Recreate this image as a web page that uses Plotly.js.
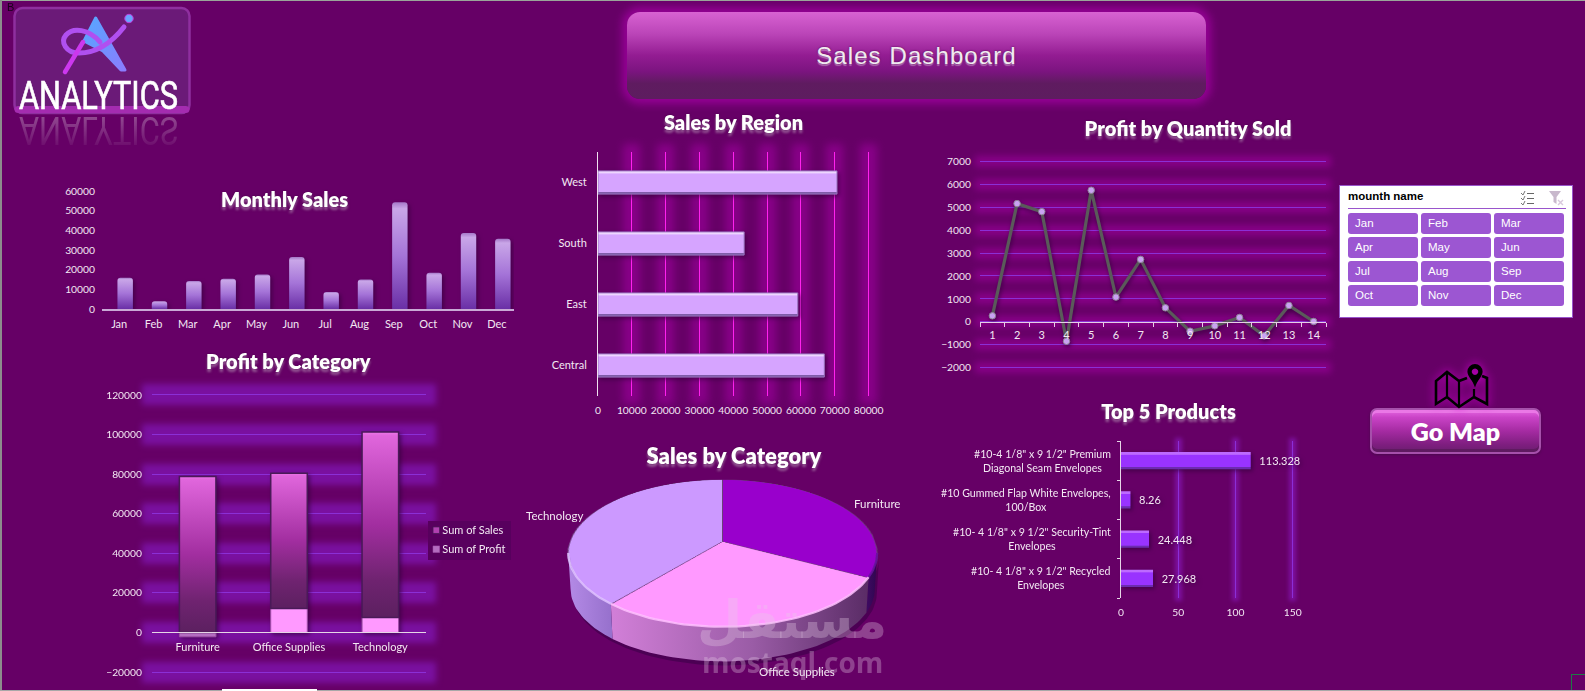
<!DOCTYPE html>
<html>
<head>
<meta charset="utf-8">
<script src="https://cdn.plot.ly/plotly-3.0.1.min.js"></script>
<style>
html,body{margin:0;padding:0;background:#660066;width:1585px;height:691px;overflow:hidden}
.layer{position:absolute;left:0;top:0;width:1585px;height:691px;pointer-events:none}
.abs{position:absolute}
#header{left:627px;top:12px;width:579px;height:87px;border-radius:13px;
 background:linear-gradient(180deg,#d862d2 0%,#bb45b8 25%,#931c92 50%,#7c1480 68%,#5f1b60 82%,#5d1d5f 100%);
 box-shadow:0 0 9px 5px #950095}
#header span{position:absolute;left:0;right:0;top:30px;text-align:center;font:24px "Liberation Sans",sans-serif;letter-spacing:1.1px;color:#f1eaf1;
 text-shadow:0 2px 1px rgba(255,255,255,.35),0 0 2px #4a0a4a}
#slicer{left:1339px;top:185px;width:232px;height:131px;background:#fff;border:1px solid #9955cc;box-sizing:content-box}
#slicer .t{position:absolute;left:8px;top:4px;font:bold 11.5px "Liberation Sans",sans-serif;color:#000}
#slicer .sep{position:absolute;left:8px;width:218px;top:22px;height:1px;background:#9955cc}
.sb{position:absolute;width:70px;height:21px;background:#9c56d2;border-radius:3px;color:#fff;font:11.5px "Liberation Sans",sans-serif;line-height:21px;padding-left:7px;box-sizing:border-box}
#gomap{left:1370px;top:408px;width:171px;height:46px;border-radius:7px;box-sizing:border-box;
 background:linear-gradient(180deg,#e566e2 0%,#c943c6 18%,#a52ba2 50%,#7f1e80 82%,#6a1e6e 100%);
 border:2px solid #a650ab;box-shadow:inset 0 -3px 0 #5f1a60,inset 0 3px 0 #ea78e6,0 1px 3px #4a0a4c;
 color:#fff;text-align:center;font:800 25px Lato,sans-serif;line-height:43px}
#edge-b{left:7px;top:1px;font:11px "Liberation Sans",sans-serif;color:#1a001a}
</style>
</head>
<body>
<svg width="0" height="0" style="position:absolute">
 <defs>
  <filter id="glowRegion" filterUnits="userSpaceOnUse" x="-100" y="-100" width="1800" height="900" color-interpolation-filters="sRGB">
   <feMorphology in="SourceAlpha" operator="dilate" radius="8" result="d"/><feGaussianBlur in="d" stdDeviation="4" result="b"/>
   <feFlood flood-color="#880088"/><feComposite in2="b" operator="in" result="g"/>
   <feMerge><feMergeNode in="g"/><feMergeNode in="SourceGraphic"/></feMerge>
  </filter>
  <filter id="glowQty" filterUnits="userSpaceOnUse" x="-100" y="-100" width="1800" height="900" color-interpolation-filters="sRGB">
   <feMorphology in="SourceAlpha" operator="dilate" radius="5" result="d"/><feGaussianBlur in="d" stdDeviation="3.5" result="b"/>
   <feFlood flood-color="#880088"/><feComposite in2="b" operator="in" result="g"/>
   <feMerge><feMergeNode in="g"/><feMergeNode in="SourceGraphic"/></feMerge>
  </filter>
  <filter id="glowCat" filterUnits="userSpaceOnUse" x="-100" y="-100" width="1800" height="900" color-interpolation-filters="sRGB">
   <feMorphology in="SourceAlpha" operator="dilate" radius="10" result="d"/><feGaussianBlur in="d" stdDeviation="3" result="b"/>
   <feFlood flood-color="#7a10a0"/><feComposite in2="b" operator="in" result="g"/>
   <feMerge><feMergeNode in="g"/><feMergeNode in="SourceGraphic"/></feMerge>
  </filter>
  <filter id="glowTop" filterUnits="userSpaceOnUse" x="-100" y="-100" width="1800" height="900" color-interpolation-filters="sRGB">
   <feMorphology in="SourceAlpha" operator="dilate" radius="3" result="d"/><feGaussianBlur in="d" stdDeviation="2" result="b"/>
   <feFlood flood-color="#7d10a0"/><feComposite in2="b" operator="in" result="g"/>
   <feMerge><feMergeNode in="g"/><feMergeNode in="SourceGraphic"/></feMerge>
  </filter>
  <linearGradient id="gMonthly" x1="0" y1="0" x2="0" y2="1">
   <stop offset="0" stop-color="#a577c8"/><stop offset=".06" stop-color="#c9a6e8"/><stop offset=".5" stop-color="#a574d8"/><stop offset="1" stop-color="#6a2fa6"/>
  </linearGradient>
  <linearGradient id="gRegion" x1="0" y1="0" x2="0" y2="1">
   <stop offset="0" stop-color="#eed6ff"/><stop offset=".1" stop-color="#eed6ff"/><stop offset=".12" stop-color="#d6a4ff"/>
   <stop offset=".9" stop-color="#d6a4ff"/><stop offset=".93" stop-color="#7f5ca8"/><stop offset="1" stop-color="#7f5ca8"/>
  </linearGradient>
  <linearGradient id="gSales" x1="0" y1="0" x2="0" y2="1">
   <stop offset="0" stop-color="#ee77ea"/><stop offset=".02" stop-color="#e066dc"/><stop offset=".5" stop-color="#a22ea0"/><stop offset=".8" stop-color="#6f2370"/><stop offset="1" stop-color="#5c2060"/>
  </linearGradient>
  <linearGradient id="gTop" x1="0" y1="0" x2="0" y2="1">
   <stop offset="0" stop-color="#bd6aff"/><stop offset=".14" stop-color="#bd6aff"/><stop offset=".17" stop-color="#9933ff"/>
   <stop offset=".86" stop-color="#9933ff"/><stop offset=".89" stop-color="#6c2cb0"/><stop offset="1" stop-color="#6c2cb0"/>
  </linearGradient>
  <linearGradient id="fadeRefFlip" x1="0" y1="0" x2="0" y2="1">
   <stop offset="0" stop-color="#fff" stop-opacity="0"/><stop offset="1" stop-color="#fff" stop-opacity=".36"/>
  </linearGradient>
  <linearGradient id="gTri" x1="0" y1="0" x2="1" y2="1">
   <stop offset="0" stop-color="#55a8ff"/><stop offset="1" stop-color="#8b7cff"/>
  </linearGradient>
 </defs>
</svg>

<div id="header" class="abs"><span>Sales Dashboard</span></div>

<!-- logo -->
<svg class="layer" style="z-index:5" width="1585" height="691">
 <rect x="14.5" y="8" width="175" height="105" rx="8" fill="#6b1a78" stroke="#8f2f9f" stroke-width="2.5"/>
 <rect x="14.5" y="106" width="175" height="7" rx="4" fill="#a42cb0"/>
 <path d="M95.7 18 L125 70 L121 70 L103 51 L84 41 Z" fill="url(#gTri)" stroke="url(#gTri)" stroke-width="3" stroke-linejoin="round"/>
 <path d="M124 27 C113 41,98 53,79 53 C66 53,60 42,66 35 C73 27,89 29,100 42" fill="none" stroke="#b050f0" stroke-width="5" stroke-linecap="round"/>
 <path d="M83 42 L65 72" stroke="#cc38ee" stroke-width="4.5" stroke-linecap="round"/>
 <circle cx="129" cy="18.5" r="4.2" fill="#6aa4ff" stroke="#c040e0"/>
 <text x="19" y="108.5" textLength="159" lengthAdjust="spacingAndGlyphs" font-family="Roboto" font-size="39" fill="#fff" stroke="#fff" stroke-width=".7">ANALYTICS</text>
 <g transform="translate(0,225.5) scale(1,-1)">
  <text x="19" y="108.5" textLength="159" lengthAdjust="spacingAndGlyphs" font-family="Roboto" font-size="39" fill="url(#fadeRefFlip)">ANALYTICS</text>
 </g>
 <!-- go-map icon -->
 <g style="filter:drop-shadow(0 0 5px #d000d0)" fill="none" stroke="#000" stroke-width="2.6" stroke-linejoin="miter">
  <path d="M1467 378 L1459 381 L1447 372 L1436 381 V404 L1447 397 L1459 407 L1474 397 L1487 404 V378 L1482 376"/>
  <path d="M1447 372 V397 M1459 381 V407 M1474 389 V397" stroke-width="2.2"/>
  <path fill="#000" stroke="none" fill-rule="evenodd" d="M1475 364 a7.6 7.6 0 0 1 7.6 7.6 c0 5 -5 8 -7.6 16 c-2.6 -8 -7.6 -11 -7.6 -16 a7.6 7.6 0 0 1 7.6 -7.6 Z M1475 368.5 a3.2 3.2 0 1 0 .01 0 Z"/>
 </g>
</svg>

<div id="gomap" class="abs">Go Map</div>

<div id="slicer" class="abs">
 <div class="t">mounth name</div>
 <svg class="abs" style="left:180px;top:4px" width="48" height="16">
  <g stroke="#777" stroke-width="1" fill="none"><path d="M1 3 L3 5 L5 1 M1 8 L3 10 L5 6 M1 13 L3 15 L5 11"/><path stroke="#666" d="M7 3.5 H14 M7 8.5 H14 M7 13.5 H14"/></g>
  <path d="M29 1 H41 L36.5 7 V14 L33.5 12 V7 Z" fill="#c8b8cc"/><path d="M38 10 L43 15 M43 10 L38 15" stroke="#d8c8dc" stroke-width="1.4"/>
 </svg>
 <div class="sep"></div>
 <div id="slicerBtns"></div>
</div>

<div class="abs" style="left:0;top:0;width:1585px;height:1px;background:#9aa59a;z-index:9"></div>
<div class="abs" style="left:0;top:0;width:1.5px;height:691px;background:#8d8d8d;z-index:9"></div>
<div class="abs" style="left:0;top:690px;width:1585px;height:1px;background:#a8a8a8;z-index:9"></div>
<div class="abs" style="left:222px;top:689px;width:95px;height:2px;background:#fff;z-index:9"></div>
<div class="abs" style="left:1571px;top:674px;width:14px;height:16px;border:1.5px solid #1d7a45;border-right:0;border-bottom:0;box-sizing:border-box;z-index:9"></div>
<div id="edge-b" class="abs" style="z-index:9">B</div>

<div id="chMonthly" class="layer" style="z-index:2"></div>
<div id="chRegion" class="layer" style="z-index:2"></div>
<div id="chQty" class="layer" style="z-index:2"></div>
<div id="chCat" class="layer" style="z-index:2"></div>
<div id="chTop" class="layer" style="z-index:2"></div>
<div id="chPie" class="abs" style="left:570.2px;top:388.5px;width:305px;height:305px;z-index:3;transform-origin:50% 50%;transform:perspective(825px) rotateX(61.9deg)"></div>
<div id="chPieSide" class="layer" style="z-index:4"></div>

<script>
// ---------- data ----------
var months = ['Jan','Feb','Mar','Apr','May','Jun','Jul','Aug','Sep','Oct','Nov','Dec'];
var monthlySales = [15900,4000,14200,15400,17600,26400,8600,15000,54300,18400,38700,35700];

var regions = ['Central','East','South','West'];
var regionSales = [66900,59060,43200,70650];

var quantities = ['1','2','3','4','5','6','7','8','9','10','11','12','13','14'];
var qtyProfit = [262,5155,4805,-845,5737,1078,2723,612,-408,-175,190,-612,714,15];

var categories = ['Furniture','Office Supplies','Technology'];
var catProfit = [-2200,12150,7600];
var catSales = [78800,68350,93670];

var pieSales = [78800,68350,93670];
var pieColors = ['#9900cc','#ff99ff','#cc99ff'];

var products = [
 '#10- 4 1/8" x 9 1/2" Recycled<br>Envelopes',
 '#10- 4 1/8" x 9 1/2" Security-Tint<br>Envelopes',
 '#10 Gummed Flap White Envelopes,<br>100/Box',
 '#10-4 1/8" x 9 1/2" Premium<br>Diagonal Seam Envelopes'];
var productValues = [27.968,24.448,8.26,113.328];

var slicerMonths = months;

// ---------- helpers ----------
var W=1585,H=691, TXT='#f3e8f3', FONT='Lato, "Open Sans", sans-serif';
function margin(l,r,t,b){return {l:l,r:W-r,t:t,b:H-b,pad:0};}
function title(text,cx,cy,size){
 return {text:text,x:cx/W,y:1-cy/H,xref:'container',yref:'container',xanchor:'center',yanchor:'middle',
  font:{family:FONT,size:size,color:'#fff',weight:800}};
}
function base(m,t){
 return {width:W,height:H,margin:m,title:t,paper_bgcolor:'rgba(0,0,0,0)',plot_bgcolor:'rgba(0,0,0,0)',
  showlegend:false,font:{family:FONT,size:11,color:TXT},dragmode:false};
}
var CFG={staticPlot:true,displayModeBar:false};
var tick={family:FONT,size:10.3,color:TXT};
var catTick={family:FONT,size:11,color:TXT};
function gradBars(gd,sel,id){gd.querySelectorAll(sel).forEach(function(p){p.style.fill='url(#'+id+')';});}
function polish(gd,glow){
 var tt=gd.querySelector('.gtitle');
 if(tt) tt.style.filter='drop-shadow(0 3px 1px rgba(255,255,255,.33)) drop-shadow(0 0 1px rgba(60,0,60,.6))';
 if(glow) gd.querySelectorAll('.gridlayer').forEach(function(g){g.setAttribute('filter','url(#'+glow+')');});
 var b=gd.querySelector('.barlayer'); if(b) b.style.filter='drop-shadow(2px 2px 2px rgba(50,0,60,.65))';
}

// ---------- slicer buttons ----------
(function(){
 var host=document.getElementById('slicerBtns');
 var xs=[8,81,154], ys=[27,51,75,99];
 slicerMonths.forEach(function(m,i){
  var d=document.createElement('div'); d.className='sb'; d.textContent=m;
  d.style.left=xs[i%3]+'px'; d.style.top=ys[Math.floor(i/3)]+'px'; host.appendChild(d);
 });
})();

// ---------- Monthly Sales ----------
var lMonthly=base(margin(101.6,513.8,191,309.5),title('Monthly Sales',284.6,200,20));
lMonthly.xaxis={type:'category',range:[-.5,11.5],showgrid:false,showline:true,linecolor:'#c9a9d6',linewidth:1.5,tickfont:catTick,ticks:'',ticklabelstandoff:4,zeroline:false,fixedrange:true};
lMonthly.yaxis={range:[0,60000],dtick:10000,showgrid:false,showline:false,zeroline:false,tickfont:tick,ticklabelstandoff:6,tickformat:'d'};
Plotly.newPlot('chMonthly',[{type:'bar',x:months,y:monthlySales,width:.45,offset:-.05,marker:{color:'#a574d8',cornerradius:3,line:{width:0}},hoverinfo:'skip'}],lMonthly,CFG).then(function(gd){
 gradBars(gd,'.bars .point path','gMonthly'); polish(gd);
});

// ---------- Sales by Region ----------
var lRegion=base(margin(597.5,868.5+3.4,152,396),title('Sales by Region',733.5,123,20));
lRegion.bargap=.62;
lRegion.xaxis={range:[0,81000],dtick:10000,tickangle:0,showgrid:true,gridcolor:'#ff22ee',gridwidth:1,zeroline:false,showline:false,tickfont:tick,ticklabelstandoff:7,tickformat:'d'};
lRegion.yaxis={type:'category',showgrid:false,showline:true,linecolor:'#f0e0f0',linewidth:1,zeroline:false,tickfont:catTick,ticklabelstandoff:8};
Plotly.newPlot('chRegion',[{type:'bar',orientation:'h',y:regions,x:regionSales,marker:{color:'#d6a4ff',line:{color:'#9a74c0',width:1}},hoverinfo:'skip'}],lRegion,CFG).then(function(gd){
 gradBars(gd,'.bars .point path','gRegion');
 polish(gd,'glowRegion');
});

// ---------- Profit by Quantity Sold ----------
var qtyRange=[-2100,7100];
var lQty=base(margin(980,1326,161.3-2.3,367.3+2.3),title('Profit by Quantity Sold',1188,129,20));
lQty.xaxis={type:'category',range:[-.5,13.5],anchor:'free',position:(0-qtyRange[0])/(qtyRange[1]-qtyRange[0]),showgrid:false,showline:true,linecolor:'#e6cfe6',linewidth:1,zeroline:false,
 ticks:'outside',ticklen:4,tickcolor:'#e6cfe6',tickson:'boundaries',tickfont:catTick,ticklabelstandoff:3};
lQty.yaxis={range:qtyRange,dtick:1000,tick0:0,showgrid:true,gridcolor:'#8b2fd6',gridwidth:1,zeroline:false,showline:false,tickfont:tick,ticklabelstandoff:8,tickformat:'d'};
Plotly.newPlot('chQty',[{type:'scatter',mode:'lines+markers',x:quantities,y:qtyProfit,line:{color:'#5a5a5a',width:3.2},
 marker:{size:6.5,color:'#c9a2f2',line:{color:'#8e8296',width:1}},cliponaxis:false,hoverinfo:'skip'}],lQty,CFG).then(function(gd){
 polish(gd,'glowQty');
 var s=gd.querySelector('.scatterlayer'); if(s) s.style.filter='drop-shadow(1px 2px 2px rgba(40,0,50,.7))';
});

// ---------- Profit by Category ----------
var catRange=[-21000,121000], catBox=[151.7,425.7,395.3-1.98,672.3+1.98];
var lCat=base(margin(catBox[0],catBox[1],catBox[2],catBox[3]),title('Profit by Category',288.3,362.3,20));
lCat.barmode='relative'; lCat.bargap=.6; lCat.showlegend=true;
lCat.legend={x:(428-catBox[0])/(catBox[1]-catBox[0]),y:(catBox[3]-516)/(catBox[3]-catBox[2]),xanchor:'left',yanchor:'top',traceorder:'reversed',bgcolor:'#58005e',font:{family:FONT,size:11,color:TXT},itemwidth:30,itemclick:false,itemdoubleclick:false};
lCat.xaxis={type:'category',anchor:'free',position:(0-catRange[0])/(catRange[1]-catRange[0]),showgrid:false,showline:true,linecolor:'#e6d6e6',linewidth:1,zeroline:false,ticks:'',tickfont:catTick,ticklabelstandoff:4};
lCat.yaxis={range:catRange,dtick:20000,tick0:0,showgrid:true,gridcolor:'#8b2fd6',gridwidth:1,zeroline:false,showline:false,tickfont:tick,ticklabelstandoff:9,tickformat:'d'};
Plotly.newPlot('chCat',[
 {type:'bar',name:'Sum of Profit',x:categories,y:catProfit,marker:{color:catProfit.map(function(v){return v<0?'#b46cc0':'#ff99ff';}),line:{color:'#a050a8',width:1}},hoverinfo:'skip'},
 {type:'bar',name:'Sum of Sales',x:categories,y:catSales,marker:{color:'#b040b0',line:{color:'#4a1a58',width:1.5}},hoverinfo:'skip'}
],lCat,CFG).then(function(gd){
 var tr=gd.querySelectorAll('.barlayer .trace.bars');
 if(tr[1]) tr[1].querySelectorAll('.point path').forEach(function(p){p.style.fill='url(#gSales)';});
 polish(gd,'glowCat');
 var lg=gd.querySelector('.legend');
 if(lg){
  lg.querySelectorAll('.legendtext').forEach(function(t){t.setAttribute('x',14);});
  lg.querySelectorAll('.legendsymbols').forEach(function(t){t.setAttribute('transform','translate(-3,0) scale(.55)');});
  var bg=lg.querySelector('.bg');
  if(bg){bg.setAttribute('width',83);bg.setAttribute('y',5);bg.setAttribute('height',39);}
 }
});

// ---------- Top 5 Products ----------
var lTop=base(margin(1121.4,1292.5+2.3,441,597.7),title('Top 5 Products',1168.5,412,20));
lTop.bargap=.56;
lTop.xaxis={range:[0,152],dtick:50,tickangle:0,showgrid:true,gridcolor:'#8b2fd6',gridwidth:1,zeroline:false,showline:false,tickfont:tick,ticklabelstandoff:7};
lTop.yaxis={type:'category',categoryorder:'array',categoryarray:products,showgrid:false,showline:true,linecolor:'#e6d6e6',linewidth:1,zeroline:false,ticks:'outside',ticklen:3,tickcolor:'#e6d6e6',tickson:'boundaries',showticklabels:false};
var topPlotW=(1292.5+2.3)-1121.4;
lTop.annotations=products.map(function(p){
 return {xref:'paper',yref:'y',x:(1112-1121.4)/topPlotW,y:p,text:p,xanchor:'right',yanchor:'middle',align:'center',showarrow:false,font:{family:FONT,size:10.6,color:TXT},borderpad:0,captureevents:false};
});
Plotly.newPlot('chTop',[{type:'bar',orientation:'h',y:products,x:productValues,text:productValues.map(function(v){return '\u00a0\u00a0'+v;}),textposition:'outside',cliponaxis:false,
 textfont:{family:FONT,size:11,color:TXT},marker:{color:'#9933ff',line:{width:0}},hoverinfo:'skip'}],lTop,CFG).then(function(gd){
 gradBars(gd,'.bars .point path','gTop');
 polish(gd,'glowTop');
});

// ---------- Sales by Category (tilted pie) ----------
Plotly.newPlot('chPie',[{type:'pie',labels:categories,values:pieSales,sort:false,direction:'clockwise',rotation:0,textinfo:'none',
 marker:{colors:pieColors,line:{color:'#6b3f78',width:1}},hoverinfo:'skip',domain:{x:[0,1],y:[0,1]}}],
 {width:305,height:305,margin:{l:0,r:0,t:0,b:0,pad:0},paper_bgcolor:'rgba(0,0,0,0)',showlegend:false},CFG);

// side wall of the tilted pie: same slice angles, projected with the same tilt
var PC={cx:722.7,cy:541,R:152.4,b:71.75,a:.1629,depth:36,inset:.985};
function proj(deg,lower){
 var t=deg*Math.PI/180,u=Math.sin(t),v=Math.cos(t),s=1/(1+PC.a*v),k=lower?PC.inset:1;
 return [PC.cx+PC.R*u*s*k, PC.cy-PC.b*v*s*k+(lower?PC.depth:0)];
}
function sliceAngles(){
 var tot=pieSales.reduce(function(a,b){return a+b;},0),c=0,o=[];
 pieSales.forEach(function(v){o.push([c,c+v/tot*360]);c+=v/tot*360;});
 return o;
}
var visFrom=Math.acos(-PC.a)*180/Math.PI, visTo=360-visFrom;
function wall(a0,a1,dx,dy){
 var x=[],y=[],i,p,n=Math.max(2,Math.ceil((a1-a0)/2));
 for(i=0;i<=n;i++){p=proj(a0+(a1-a0)*i/n,false);x.push(p[0]+(dx||0));y.push(p[1]+(dy||0));}
 for(i=n;i>=0;i--){p=proj(a0+(a1-a0)*i/n,true);x.push(p[0]+(dx||0));y.push(p[1]+(dy||0));}
 x.push(x[0]);y.push(y[0]);
 return {x:x,y:y};
}
function rim(a0,a1){
 var x=[],y=[],i,p,n=Math.max(2,Math.ceil((a1-a0)/2));
 for(i=0;i<=n;i++){p=proj(a0+(a1-a0)*i/n,false);x.push(p[0]);y.push(p[1]);}
 return {x:x,y:y};
}
var wallGrad=[[[0,'#3f0a62'],[1,'#2f0650']],[[0,'#d27fd8'],[.55,'#9a5ca6'],[1,'#5a2c66']],[[0,'#b48ae6'],[1,'#9670cc']]];
var rimCol=['#6a10a0','#ffc0ff','#dfc2ff'];
var A=sliceAngles(), sideTraces=[];
(function(){
 var sh=wall(visFrom,visTo,2,4);
 sideTraces.push({type:'scatter',mode:'lines',x:sh.x,y:sh.y,fill:'toself',fillcolor:'rgba(55,0,70,.55)',line:{width:0},hoverinfo:'skip'});
 A.forEach(function(ang,i){
  var a0=Math.max(ang[0],visFrom),a1=Math.min(ang[1],visTo); if(a1<=a0) return;
  var w=wall(a0,a1);
  sideTraces.push({type:'scatter',mode:'lines',x:w.x,y:w.y,fill:'toself',fillcolor:wallGrad[i][0][1],
   fillgradient:{type:'horizontal',colorscale:wallGrad[i]},line:{width:0},hoverinfo:'skip'});
 });
 A.forEach(function(ang,i){
  var a0=Math.max(ang[0],visFrom),a1=Math.min(ang[1],visTo); if(a1<=a0) return;
  var r=rim(a0,a1);
  sideTraces.push({type:'scatter',mode:'lines',x:r.x,y:r.y,line:{color:rimCol[i],width:2.2},opacity:.85,hoverinfo:'skip'});
 });
})();
var lSide=base(margin(0,W,0,H),title('Sales by Category',734,456.7,22));
lSide.xaxis={range:[0,W],visible:false,fixedrange:true};
lSide.yaxis={range:[H,0],visible:false,fixedrange:true};
var pieLabelPos=[[876.7,503.3],[796.7,671],[554.3,515]];
lSide.annotations=categories.map(function(c,i){
 return {xref:'x',yref:'y',x:pieLabelPos[i][0],y:pieLabelPos[i][1],text:c,showarrow:false,xanchor:'center',yanchor:'middle',font:{family:FONT,size:11.5,color:TXT}};
}).concat([
 {xref:'x',yref:'y',x:792,y:620,text:'مستقل',showarrow:false,xanchor:'center',yanchor:'middle',font:{family:'"DejaVu Sans"',size:52,color:'rgba(230,205,230,.32)',weight:700}},
 {xref:'x',yref:'y',x:792,y:662,text:'mostaql.com',showarrow:false,xanchor:'center',yanchor:'middle',font:{family:'"Open Sans"',size:28,color:'rgba(230,205,230,.32)',weight:700}}
]);
Plotly.newPlot('chPieSide',sideTraces,lSide,CFG).then(function(gd){polish(gd);});
</script>
</body>
</html>
